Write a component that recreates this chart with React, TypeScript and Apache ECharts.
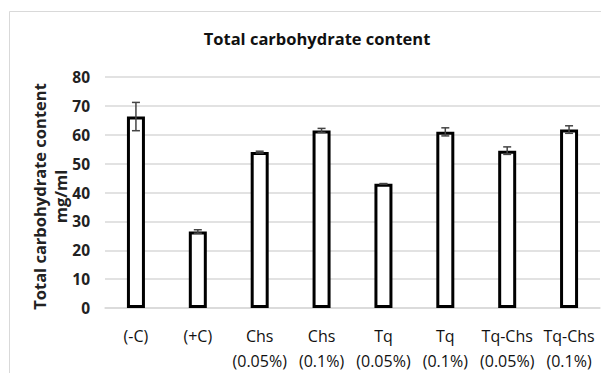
import React, { useEffect, useRef } from "react";
import * as echarts from "echarts";

const categories = [
  "(-C)",
  "(+C)",
  "Chs\n(0.05%)",
  "Chs\n(0.1%)",
  "Tq\n(0.05%)",
  "Tq\n(0.1%)",
  "Tq-Chs\n(0.05%)",
  "Tq-Chs\n(0.1%)",
];
const means = [66.3, 26.5, 54.0, 61.5, 43.0, 61.0, 54.5, 61.8];
const errors = [4.9, 0.6, 0.3, 0.7, 0.1, 1.4, 1.3, 1.3];
const yTicks = [0, 10, 20, 30, 40, 50, 60, 70, 80];

const FONT = "'Open Sans', 'Liberation Sans', sans-serif";

export default function App() {
  const ref = useRef<HTMLDivElement>(null);
  useEffect(() => {
    if (!ref.current) return;
    const chart = echarts.init(ref.current, null, { renderer: "svg" });
    const errData = means.map((m, i) => [i, m - errors[i], m + errors[i]]);
    chart.setOption({
      animation: false,
      backgroundColor: "#ffffff",
      title: {
        text: "Total carbohydrate content",
        left: 312,
        top: 25,
        textAlign: "center",
        textStyle: { fontFamily: FONT, fontSize: 16.5, fontWeight: "bold", color: "#111" },
      },
      graphic: [
        {
          type: "rect",
          shape: { x: 9.5, y: 11.5, width: 620, height: 400 },
          style: { fill: "none", stroke: "#d9d9d9", lineWidth: 1 },
          silent: true,
        },
      ],
      grid: { left: 105, right: 1, top: 77, bottom: 65, containLabel: false },
      xAxis: {
        type: "category",
        data: categories,
        axisLine: { show: true, lineStyle: { color: "#d9d9d9", width: 1.5 } },
        axisTick: { show: false },
        axisLabel: {
          interval: 0,
          margin: 15,
          fontFamily: FONT,
          fontSize: 16,
          lineHeight: 25,
          color: "#111",
        },
      },
      yAxis: {
        type: "value",
        min: 0,
        max: yTicks[yTicks.length - 1],
        interval: 10,
        name: "Total carbohydrate content\nmg/ml",
        nameLocation: "middle",
        nameGap: 34,
        nameMoveOverlap: false,
        nameTextStyle: {
          fontFamily: FONT,
          fontSize: 16.5,
          fontWeight: "bold",
          color: "#222",
          lineHeight: 21,
          padding: [0, 8, 0, 0],
        },
        axisLine: { show: false },
        axisTick: { show: false },
        axisLabel: {
          margin: 15,
          fontFamily: FONT,
          fontSize: 15.5,
          fontWeight: "bold",
          color: "#222",
        },
        splitLine: { lineStyle: { color: "#d9d9d9", width: 1.5 } },
      },
      series: [
        {
          type: "bar",
          data: means,
          barWidth: 18,
          itemStyle: { color: "#ffffff", borderColor: "#000000", borderWidth: 3 },
        },
        {
          type: "custom",
          data: errData,
          z: 10,
          renderItem: (params: any, api: any) => {
            const x = api.value(0);
            const lo = api.coord([x, api.value(1)]);
            const hi = api.coord([x, api.value(2)]);
            const hw = 4;
            const style = { stroke: "#444", lineWidth: 1.5 };
            return {
              type: "group",
              children: [
                { type: "line", shape: { x1: lo[0], y1: lo[1], x2: hi[0], y2: hi[1] }, style },
                { type: "line", shape: { x1: hi[0] - hw, y1: hi[1], x2: hi[0] + hw, y2: hi[1] }, style },
                { type: "line", shape: { x1: lo[0] - hw, y1: lo[1], x2: lo[0] + hw, y2: lo[1] }, style },
              ],
            };
          },
        },
      ],
    });
    return () => chart.dispose();
  }, []);
  return (
    <div
      ref={ref}
      style={{ position: "fixed", left: 0, top: 0, width: 601, height: 373 }}
    />
  );
}
